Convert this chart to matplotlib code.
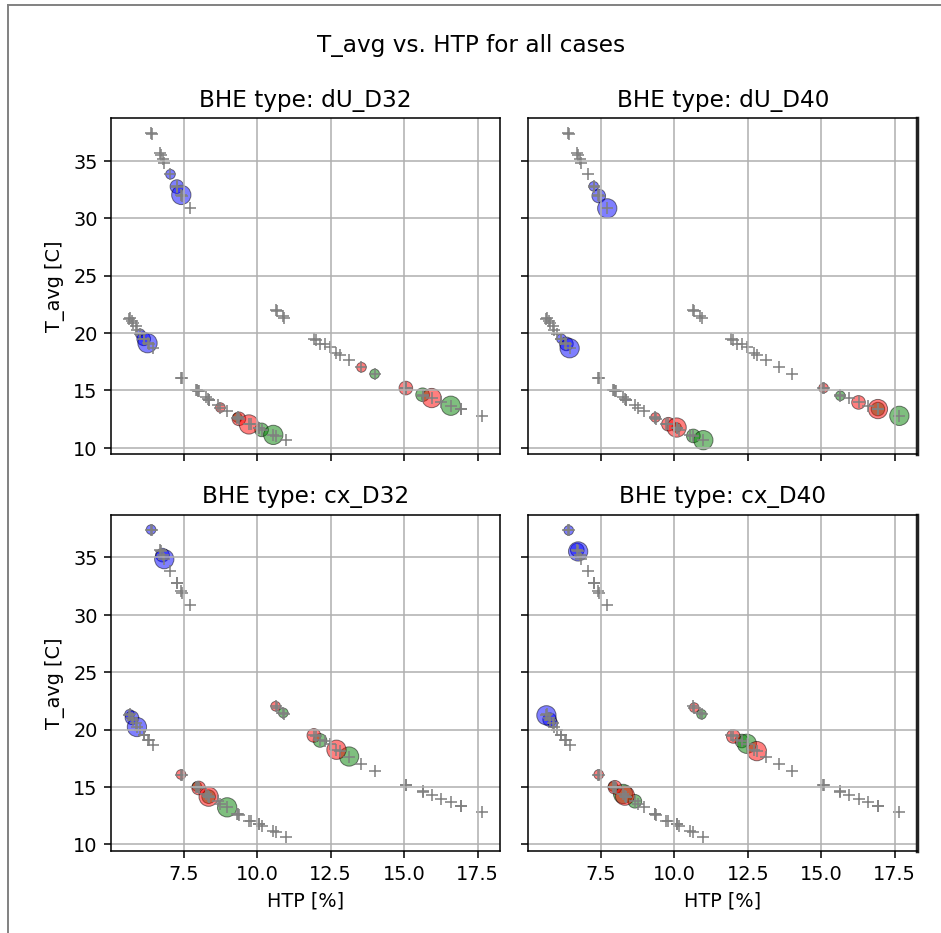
import matplotlib
matplotlib.use("Agg")
import matplotlib.pyplot as plt
from matplotlib.lines import Line2D

bhe_types = ["dU_D32", "dU_D40", "cx_D32", "cx_D40"]

# point order in every BHE type:
# blue (upper) s,m,l | blue (lower) s,m,l | green (left) s,m,l | green (right) s,m,l
# red (left) s,m,l   | red (right) s,m,l
colors = ["blue"] * 6 + ["green"] * 6 + ["red"] * 6
levels = [1, 2, 3] * 6

htp_dU_D32 = [7.05, 7.27, 7.42, 6.02, 6.14, 6.27, 9.33, 10.15, 10.55,
              14.00, 15.63, 16.59, 8.75, 9.38, 9.72, 13.55, 15.06, 15.94]
tavg_dU_D32 = [33.83, 32.76, 32.03, 19.93, 19.49, 19.11, 12.62, 11.56, 11.12,
               16.43, 14.62, 13.66, 13.50, 12.52, 12.03, 17.01, 15.20, 14.33]

htp_dU_D40 = [7.26, 7.43, 7.72, 6.16, 6.33, 6.44, 10.08, 10.65, 10.99,
              15.65, 16.93, 17.66, 9.36, 9.80, 10.08, 15.08, 16.27, 16.93]
tavg_dU_D40 = [32.78, 31.94, 30.86, 19.49, 19.05, 18.67, 11.76, 11.03, 10.66,
               14.53, 13.37, 12.78, 12.64, 12.05, 11.76, 15.20, 13.95, 13.37]

htp_cx_D32 = [6.39, 6.78, 6.84, 5.66, 5.74, 5.91, 7.95, 8.35, 8.98,
              10.89, 12.14, 13.13, 7.41, 8.01, 8.35, 10.63, 11.93, 12.70]
tavg_cx_D32 = [37.42, 35.20, 34.85, 21.33, 21.03, 20.22, 15.03, 14.15, 13.22,
               21.45, 19.05, 17.65, 16.08, 14.91, 14.15, 22.03, 19.49, 18.24]

htp_cx_D40 = [6.41, 6.70, 6.73, 5.87, 5.76, 5.65, 7.92, 8.66, 8.26,
              10.93, 12.30, 12.47, 7.43, 7.98, 8.32, 10.68, 12.01, 12.81]
tavg_cx_D40 = [37.36, 35.65, 35.52, 20.57, 20.86, 21.24, 15.03, 13.75, 14.39,
               21.33, 19.00, 18.76, 16.08, 14.97, 14.24, 21.91, 19.40, 18.12]

htp = {"dU_D32": htp_dU_D32, "dU_D40": htp_dU_D40,
       "cx_D32": htp_cx_D32, "cx_D40": htp_cx_D40}
tavg = {"dU_D32": tavg_dU_D32, "dU_D40": tavg_dU_D40,
        "cx_D32": tavg_cx_D32, "cx_D40": tavg_cx_D40}

size_of = {1: 25, 2: 50, 3: 100}

all_htp = [v for t in bhe_types for v in htp[t]]
all_tavg = [v for t in bhe_types for v in tavg[t]]

dpi = 139
fig = plt.figure(figsize=(941.3 / dpi, 933.3 / dpi), dpi=dpi)
axes = fig.subplots(2, 2, sharex=True, sharey=True)
fig.subplots_adjust(left=0.118, right=0.9745, top=0.8732, bottom=0.0879,
                    wspace=0.072, hspace=0.179)
fig.suptitle("T_avg vs. HTP for all cases", y=0.951, va="center")

for ax, bhe in zip(axes.flat, bhe_types):
    for c in ["blue", "green", "red"]:
        idx = [i for i, cc in enumerate(colors) if cc == c]
        ax.scatter([htp[bhe][i] for i in idx], [tavg[bhe][i] for i in idx],
                   s=[size_of[levels[i]] for i in idx], color=c, alpha=0.5,
                   edgecolors="k", linewidths=0.5)
    ax.scatter(all_htp, all_tavg, marker="+", color="gray", s=40, linewidths=0.8)
    ax.set_title(f"BHE type: {bhe}")
    ax.grid(True)
    ax.set_xlim(5.03, 18.27)
    ax.set_ylim(9.42, 38.73)

for ax in axes[1, :]:
    ax.set_xlabel("HTP [%]")
for ax in axes[:, 0]:
    ax.set_ylabel("T_avg [C]")
for ax in axes[:, 1]:
    ax.spines["right"].set_linewidth(1.8)
    ax.spines["right"].set_color("#222222")

# frame lines along the left and top edge of the picture
fig.add_artist(Line2D([0.0088, 0.0088], [0, 0.9946], transform=fig.transFigure,
                      color="gray", lw=1))
fig.add_artist(Line2D([0.0088, 1], [0.9946, 0.9946], transform=fig.transFigure,
                      color="gray", lw=1))

fig.savefig("out.png", dpi=dpi)
